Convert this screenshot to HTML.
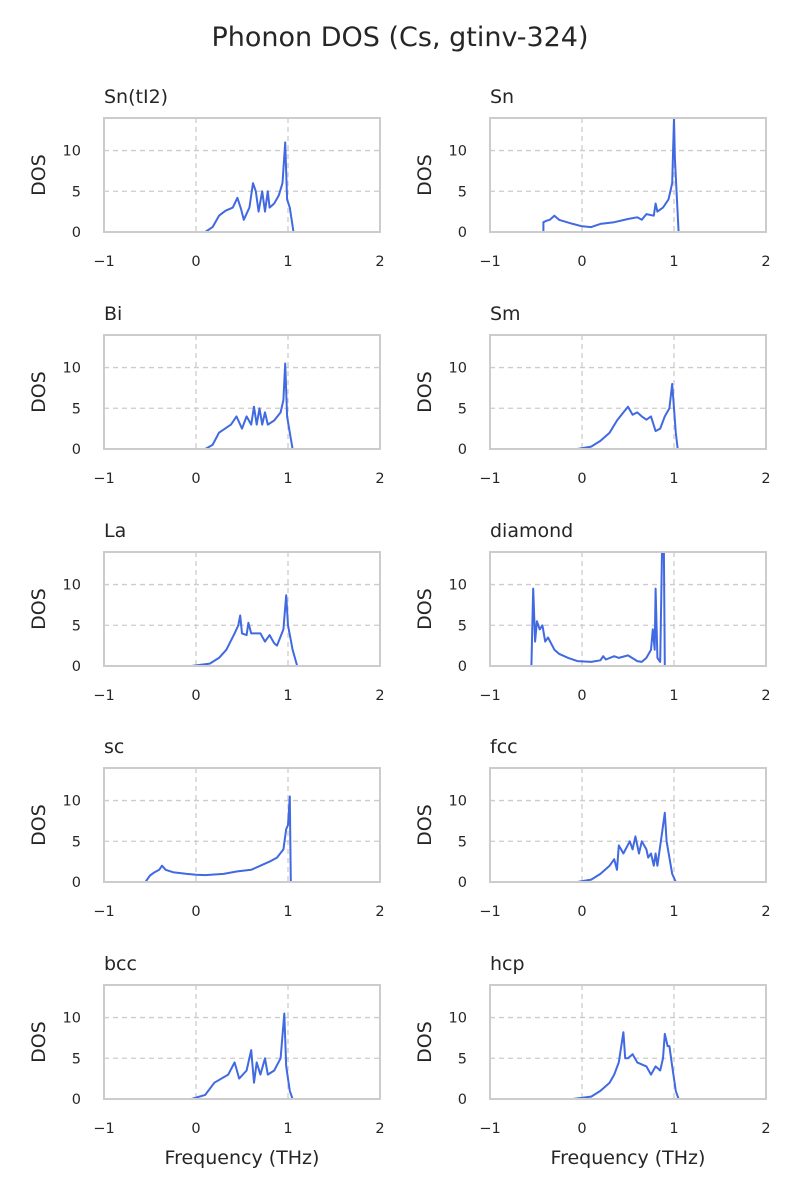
<!DOCTYPE html>
<html><head><meta charset="utf-8"><style>
body{margin:0;background:#fff}
svg{display:block;font-family:"DejaVu Sans","Liberation Sans",sans-serif}
</style></head><body>
<svg id="fig" width="800" height="1200" viewBox="0 0 800 1200">
<text x="400" y="46" text-anchor="middle" font-size="27" fill="#262626">Phonon DOS (Cs, gtinv-324)</text>
</svg>
<script>
const panelNames=["Sn(tI2)","Sn","Bi","Sm","La","diamond","sc","fcc","bcc","hcp"];
const xTicks=[-1,0,1,2];
const xTickLabels=["\u22121","0","1","2"];
const yTicks=[0,5,10];
const yTickLabels=["0","5","10"];
const snti2X=[0,0.1,0.18,0.25,0.32,0.4,0.45,0.49,0.52,0.58,0.62,0.65,0.68,0.72,0.75,0.78,0.8,0.85,0.9,0.94,0.97,0.99,1.02,1.06,1.15];
const snti2Y=[0,0,0.6,2,2.6,3,4.2,2.8,1.5,3,6,5,2.5,5,2.5,5,3,3.5,4.5,6,11,4,3,0,0];
const snX=[-0.42,-0.42,-0.38,-0.35,-0.3,-0.25,-0.1,0,0.1,0.2,0.35,0.5,0.6,0.65,0.7,0.78,0.8,0.82,0.88,0.94,0.98,1.0,1.01,1.05,1.1];
const snY=[0,1.2,1.4,1.5,2,1.5,1,0.7,0.6,1,1.2,1.6,1.8,1.5,2.2,2,3.5,2.5,3,4,6,14,9,0,0];
const biX=[-0.1,0.1,0.18,0.25,0.38,0.44,0.5,0.55,0.6,0.63,0.66,0.69,0.72,0.75,0.78,0.85,0.92,0.95,0.97,0.99,1.02,1.05,1.15];
const biY=[0,0,0.5,2,3,4,2.5,4,3,5.2,3,5,3,4.5,3,3.5,4.5,6,10.5,4,2,0,0];
const smX=[-0.05,0.1,0.2,0.3,0.38,0.45,0.5,0.55,0.6,0.65,0.7,0.75,0.8,0.85,0.9,0.95,0.98,1.0,1.02,1.04,1.12];
const smY=[0,0.3,1,2,3.5,4.5,5.2,4.2,4.5,4,3.6,4,2.2,2.5,4,5,8,5,2,0,0];
const laX=[-0.05,0.15,0.25,0.33,0.42,0.46,0.48,0.5,0.55,0.57,0.6,0.7,0.75,0.8,0.85,0.88,0.95,0.98,1.0,1.05,1.1,1.2];
const laY=[0,0.3,1,2,4,5,6.2,4,3.8,5.3,4,4,3,3.8,2.8,2.5,4.5,8.7,5,2,0,0];
const diaX=[-0.7,-0.55,-0.53,-0.51,-0.49,-0.46,-0.43,-0.4,-0.37,-0.3,-0.25,-0.15,-0.05,0.1,0.2,0.23,0.26,0.35,0.4,0.5,0.6,0.65,0.7,0.75,0.77,0.79,0.8,0.82,0.85,0.87,0.89,0.9,1.05];
const diaY=[0,0,9.5,3,5.5,4.5,5,3,3.5,2,1.5,1,0.6,0.5,0.7,1.2,0.8,1.2,1,1.3,0.6,0.5,1,2,4.5,2,9.5,1,0.5,14,14,0,0];
const scX=[-0.85,-0.55,-0.5,-0.45,-0.4,-0.37,-0.33,-0.25,-0.1,0,0.1,0.3,0.45,0.6,0.7,0.8,0.88,0.95,0.98,1.0,1.02,1.03,1.12];
const scY=[0,0,0.8,1.2,1.5,2,1.5,1.2,1,0.9,0.85,1,1.3,1.5,2,2.5,3,4,6.5,7,10.5,0,0];
const fccX=[-0.05,0.1,0.2,0.3,0.35,0.38,0.4,0.45,0.52,0.55,0.58,0.62,0.65,0.7,0.72,0.75,0.78,0.8,0.82,0.87,0.9,0.92,0.98,1.02,1.1];
const fccY=[0,0.3,1,2,2.8,1.5,4.5,3.5,5,4,5.6,3.5,5,4,3,3.5,2,3.5,2,6,8.5,5,1,0,0];
const bccX=[-0.05,0.1,0.2,0.35,0.42,0.47,0.55,0.6,0.63,0.66,0.7,0.75,0.78,0.85,0.92,0.96,0.98,1.02,1.05,1.15];
const bccY=[0,0.5,2,3,4.5,2.5,3.5,6,2,4.5,3,5,3,3.5,5,10.5,4,1,0,0];
const hcpX=[-0.1,0.1,0.2,0.3,0.35,0.4,0.45,0.47,0.5,0.55,0.6,0.7,0.75,0.8,0.85,0.88,0.9,0.93,0.95,0.98,1.02,1.05,1.12];
const hcpY=[0,0.3,1,2,3,4.5,8.2,5,5,5.5,4.5,4,3,4,3.5,5,8,6.5,6.5,4,1,0,0];
const seriesX=[snti2X,snX,biX,smX,laX,diaX,scX,fccX,bccX,hcpX];
const seriesY=[snti2Y,snY,biY,smY,laY,diaY,scY,fccY,bccY,hcpY];
const xMin=-1,xMax=2,yMin=0,yMax=14;
const NS="http://www.w3.org/2000/svg";
const svg=document.getElementById('fig');
const colX=[104,490],rowY=[118,335,552,768,985],W=276,H=114;
function mk(tag,attrs,parent){const e=document.createElementNS(NS,tag);for(const k in attrs)e.setAttribute(k,attrs[k]);(parent||svg).appendChild(e);return e;}
panelNames.forEach((name,i)=>{
  const x0=colX[i%2],y0=rowY[Math.floor(i/2)];
  const sx=v=>x0+(v-xMin)/(xMax-xMin)*W;
  const sy=v=>y0+H-(v-yMin)/(yMax-yMin)*H;
  const g=mk('g',{});
  
  
  xTicks.forEach(t=>{if(t===0||t===1){const l=mk('line',{x1:sx(t),x2:sx(t),y1:y0,y2:y0+H,stroke:'#cccccc','stroke-width':1.3,'stroke-dasharray':'5,4'},g);
    
    }});
  yTicks.forEach(t=>{if(t>0){const l=mk('line',{x1:x0,x2:x0+W,y1:sy(t),y2:sy(t),stroke:'#cccccc','stroke-width':1.3,'stroke-dasharray':'5,4'},g);
    
    }});
  const xs=seriesX[i],ys=seriesY[i];
  const p=mk('polyline',{points:xs.map((v,k)=>sx(v).toFixed(1)+','+sy(ys[k]).toFixed(1)).join(' '),fill:'none',stroke:'#4169e1','stroke-width':2,'stroke-linejoin':'round'},g);
  
  
  const fr=mk('rect',{x:x0,y:y0,width:W,height:H,fill:'none',stroke:'#cccccc','stroke-width':2},g);
  
  
  xTicks.forEach((t,k)=>{const tx=mk('text',{x:sx(t),y:y0+H+34,'font-size':14.5,'text-anchor':'middle',fill:'#262626'},g);tx.textContent=xTickLabels[k];
    
    });
  yTicks.forEach((t,k)=>{const tx=mk('text',{x:x0-23,y:sy(t)+5,'font-size':14.5,'text-anchor':'end',fill:'#262626'},g);tx.textContent=yTickLabels[k];
    
    });
  const yl=mk('text',{x:0,y:0,'font-size':19,'text-anchor':'middle',fill:'#262626',transform:`translate(${x0-59},${y0+H/2}) rotate(-90)`},g);yl.textContent='DOS';
  
  
  const tt=mk('text',{x:x0,y:y0-15,'font-size':19,fill:'#262626'},g);tt.textContent=name;
  
  
  if(Math.floor(i/2)===4){const xl=mk('text',{x:x0+W/2,y:y0+H+65,'font-size':19,'text-anchor':'middle',fill:'#262626'},g);xl.textContent='Frequency (THz)';
    
    }
});
</script>
</body></html>
